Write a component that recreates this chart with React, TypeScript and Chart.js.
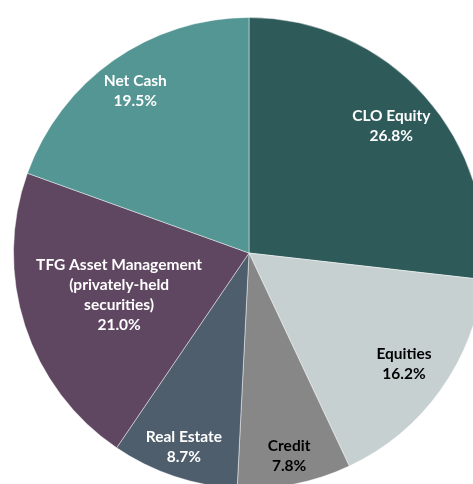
import React, { useEffect, useRef } from "react";
import { Chart, registerables } from "chart.js";

Chart.register(...registerables);

const categories = [
  "CLO Equity",
  "Equities",
  "Credit",
  "Real Estate",
  "TFG Asset Management (privately-held securities)",
  "Net Cash",
];
const labelLines = [
  ["CLO Equity"],
  ["Equities"],
  ["Credit"],
  ["Real Estate"],
  ["TFG Asset Management", "(privately-held", "securities)"],
  ["Net Cash"],
];
const values = [26.8, 16.2, 7.8, 8.7, 21.0, 19.5];

const colors = ["#2E5A5A", "#C6D0D0", "#878787", "#4F5E6D", "#5F4661", "#549693"];
const textColors = ["#FFFFFF", "#000000", "#000000", "#FFFFFF", "#FFFFFF", "#FFFFFF"];
const labelRadius = [0.81, 0.81, 0.88, 0.87, 0.58, 0.84];

const labelPlugin = {
  id: "sliceLabels",
  afterDatasetsDraw(chart: any) {
    const ctx = chart.ctx;
    const meta = chart.getDatasetMeta(0);
    ctx.save();
    ctx.font = "bold 15.5px Lato, 'Open Sans', sans-serif";
    ctx.textAlign = "center";
    ctx.textBaseline = "middle";
    meta.data.forEach((arc: any, i: number) => {
      const p = arc.getProps(["x", "y", "startAngle", "endAngle", "outerRadius"], true);
      const mid = (p.startAngle + p.endAngle) / 2;
      const r = p.outerRadius * labelRadius[i];
      const cx = p.x + Math.cos(mid) * r;
      const cy = p.y + Math.sin(mid) * r;
      const lines = [...labelLines[i], values[i].toFixed(1) + "%"];
      const lh = 20;
      const top = cy - ((lines.length - 1) * lh) / 2;
      ctx.fillStyle = textColors[i];
      lines.forEach((t, k) => ctx.fillText(t, cx, top + k * lh));
    });
    ctx.restore();
  },
};

export default function App() {
  const ref = useRef<HTMLCanvasElement>(null);
  useEffect(() => {
    document.body.style.overflow = "hidden";
    const chart = new Chart(ref.current!, {
      type: "pie",
      data: {
        labels: categories,
        datasets: [
          {
            data: values,
            backgroundColor: colors,
            borderColor: "rgba(255,255,255,0.45)",
            borderWidth: 1,
          },
        ],
      },
      options: {
        responsive: false,
        animation: false,
        layout: { padding: 13 },
        plugins: { legend: { display: false }, tooltip: { enabled: false } },
      },
      plugins: [labelPlugin],
    });
    return () => chart.destroy();
  }, []);
  return (
    <div style={{ position: "fixed", left: 0, top: 0, width: 498, height: 506 }}>
      <canvas ref={ref} width={498} height={506} style={{ width: 498, height: 506 }} />
    </div>
  );
}
